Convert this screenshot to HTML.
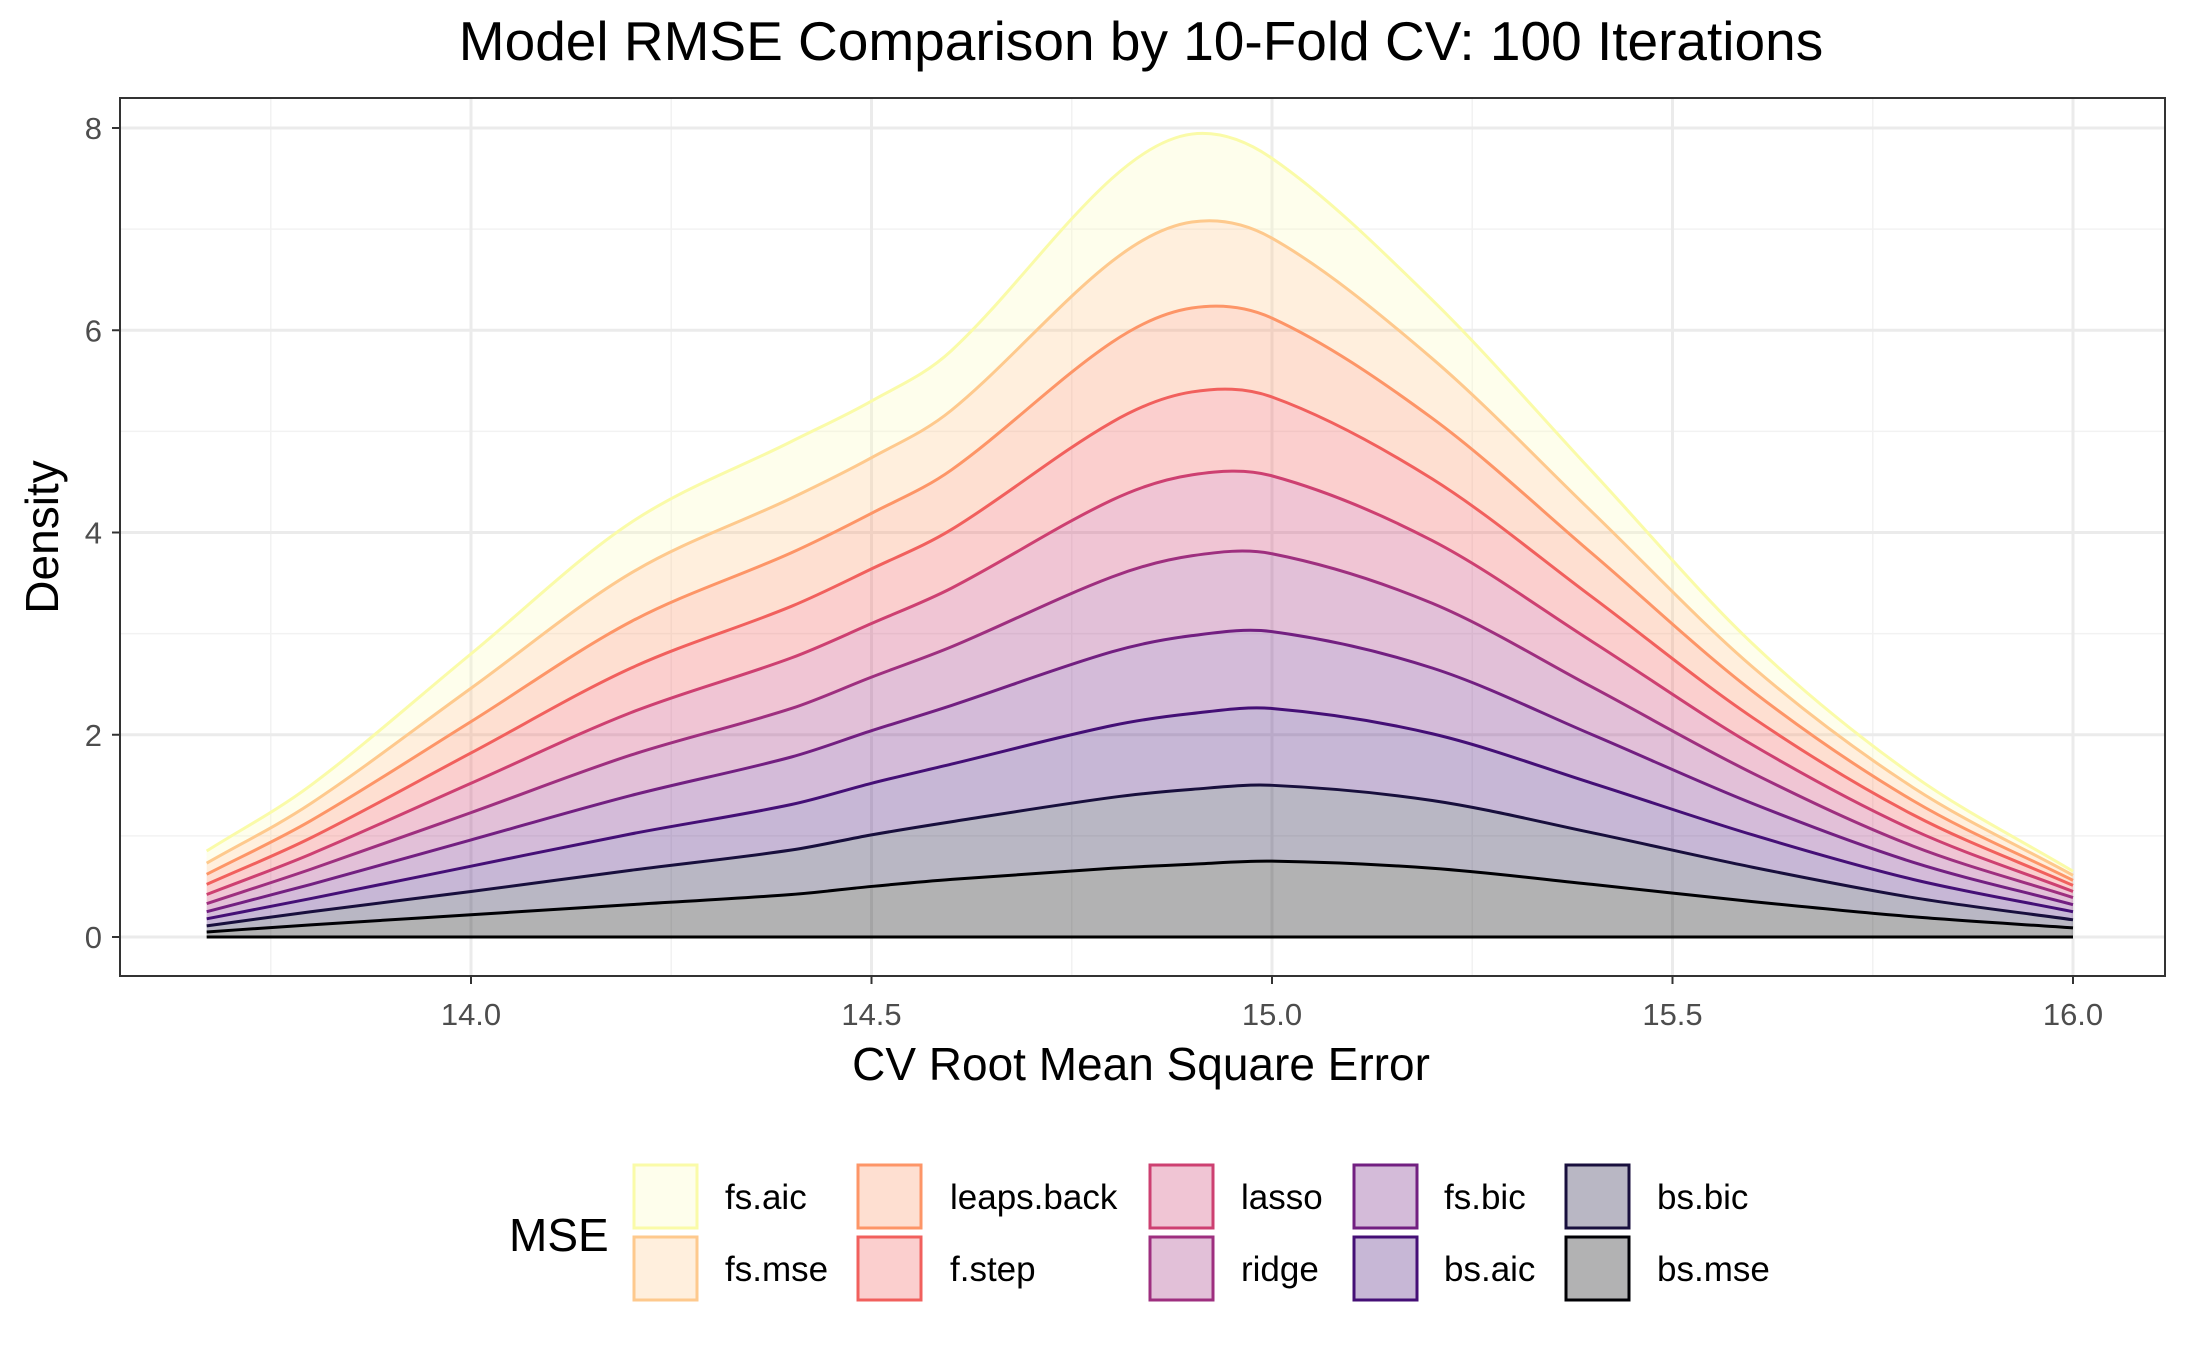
<!DOCTYPE html>
<html><head><meta charset="utf-8"><style>
html,body{margin:0;padding:0;background:#fff;}
svg{display:block;font-family:"Liberation Sans",sans-serif;}
</style></head><body>
<svg id="chart" width="2187" height="1350" viewBox="0 0 2187 1350">
<rect width="2187" height="1350" fill="#fff"/>
<text x="1141" y="60" font-size="55" text-anchor="middle" fill="#000">Model RMSE Comparison by 10-Fold CV: 100 Iterations</text>
<g id="grid"></g>
<g id="areas"></g>
<rect x="120" y="98" width="2045" height="878" fill="none" stroke="#333" stroke-width="2"/>
<g id="axes"></g>
<text x="1141" y="1080" font-size="46" text-anchor="middle" fill="#000">CV Root Mean Square Error</text>
<text x="0" y="0" font-size="46" text-anchor="middle" fill="#000" transform="translate(58,537) rotate(-90)">Density</text>
<text x="509" y="1251" font-size="46" fill="#000">MSE</text>
<g id="legend"></g>
</svg>
<script>
const xs = [13.67,13.8,14.0,14.2,14.4,14.5,14.6,14.8,14.9,15.0,15.2,15.4,15.6,15.8,16.0];
const seriesNames = ["bs.mse","bs.bic","bs.aic","fs.bic","ridge","lasso","f.step","leaps.back","fs.mse","fs.aic"];
const bsMse = [0.05,0.12,0.22,0.32,0.42,0.50,0.57,0.68,0.72,0.75,0.68,0.52,0.35,0.20,0.09];
const bsBic = [0.06,0.13,0.23,0.34,0.44,0.51,0.57,0.70,0.74,0.75,0.67,0.51,0.34,0.19,0.08];
const bsAic = [0.07,0.13,0.25,0.36,0.45,0.51,0.57,0.71,0.75,0.76,0.66,0.49,0.32,0.18,0.08];
const fsBic = [0.07,0.14,0.26,0.38,0.47,0.52,0.58,0.73,0.77,0.76,0.65,0.48,0.31,0.17,0.07];
const ridge = [0.08,0.15,0.27,0.40,0.48,0.53,0.58,0.74,0.79,0.77,0.64,0.47,0.30,0.16,0.07];
const lasso = [0.09,0.15,0.29,0.42,0.50,0.53,0.58,0.76,0.80,0.77,0.62,0.45,0.28,0.16,0.06];
const fStep = [0.10,0.16,0.30,0.44,0.51,0.54,0.58,0.77,0.82,0.78,0.61,0.44,0.27,0.15,0.06];
const leapsBack = [0.10,0.17,0.31,0.46,0.53,0.55,0.59,0.79,0.83,0.78,0.60,0.43,0.26,0.14,0.05];
const fsMse = [0.11,0.17,0.33,0.48,0.54,0.55,0.59,0.80,0.85,0.79,0.59,0.41,0.24,0.13,0.05];
const fsAic = [0.12,0.18,0.34,0.50,0.56,0.56,0.59,0.82,0.87,0.79,0.58,0.40,0.23,0.12,0.04];
const seriesValues = [bsMse,bsBic,bsAic,fsBic,ridge,lasso,fStep,leapsBack,fsMse,fsAic];
const xTicks = [14.0,14.5,15.0,15.5,16.0];
const xTickLabels = ["14.0","14.5","15.0","15.5","16.0"];
const yTicks = [0,2,4,6,8];
const yTickLabels = ["0","2","4","6","8"];
const colors = ["#000004","#180F3D","#440F76","#721F81","#9E2F7F","#CD4071","#F1605D","#FD9567","#FEC98D","#FCFDBF"];
const lineColors = ["#000004","#180F3D","#440F76","#721F81","#9E2F7F","#CD4071","#F1605D","#FD9567","#FEC98D","#FAFBA8"];

const NS="http://www.w3.org/2000/svg";
function X(v){return 471+(v-14)*(2073-471)/2;}
function Y(v){return 937-v*(937-128)/8;}
function mk(t,p,a){const e=document.createElementNS(NS,t);for(const k in a)e.setAttribute(k,a[k]);p.appendChild(e);return e;}

const grid=document.getElementById('grid');
[13.75,14.25,14.75,15.25,15.75].forEach(v=>{const l=mk('line',grid,{x1:X(v),x2:X(v),y1:98,y2:976,stroke:'#F2F2F2','stroke-width':1.5});

});
[1,3,5,7].forEach(v=>{const l=mk('line',grid,{x1:120,x2:2165,y1:Y(v),y2:Y(v),stroke:'#F2F2F2','stroke-width':1.5});

});
xTicks.forEach(v=>{const l=mk('line',grid,{x1:X(v),x2:X(v),y1:98,y2:976,stroke:'#EBEBEB','stroke-width':3});

});
yTicks.forEach(v=>{const l=mk('line',grid,{x1:120,x2:2165,y1:Y(v),y2:Y(v),stroke:'#EBEBEB','stroke-width':3});

});

const cum=[];let prev=xs.map(()=>0);cum.push(prev);
seriesValues.forEach(s=>{const c=s.map((v,i)=>v+prev[i]);cum.push(c);prev=c;});
function pts(arr){return xs.map((x,i)=>[X(x),Y(arr[i])]);}
function curve(p,move){
 const n=p.length,m=[];
 for(let i=0;i<n;i++){const a=p[Math.max(0,i-1)],b=p[Math.min(n-1,i+1)];m.push((b[1]-a[1])/(b[0]-a[0]));}
 let d=move?`M${p[0][0]},${p[0][1]}`:`L${p[0][0]},${p[0][1]}`;
 for(let i=0;i<n-1;i++){const p1=p[i],p2=p[i+1],dx=(p2[0]-p1[0])/3;
  d+=`C${p1[0]+dx},${p1[1]+m[i]*dx} ${p2[0]-dx},${p2[1]-m[i+1]*dx} ${p2[0]},${p2[1]}`;}
 return d;}
const areas=document.getElementById('areas');
for(let k=seriesValues.length-1;k>=0;k--){
 const top=pts(cum[k+1]),bot=pts(cum[k]).reverse();
 const d=curve(top,true)+curve(bot,false)+'Z';
 const a=mk('path',areas,{d:d,fill:colors[k],'fill-opacity':0.3,stroke:'none'});
 
 
}
for(let k=seriesValues.length-1;k>=0;k--){
 const l=mk('path',areas,{d:curve(pts(cum[k+1]),true),fill:'none',stroke:lineColors[k],'stroke-width':3});
 
 
}
const base=mk('line',areas,{x1:X(xs[0]),x2:X(xs[xs.length-1]),y1:Y(0),y2:Y(0),stroke:'#000',"stroke-width":3});



const axes=document.getElementById('axes');
xTicks.forEach((v,i)=>{const t=mk('line',axes,{x1:X(v),x2:X(v),y1:976,y2:984,stroke:'#333','stroke-width':2});


const tx=mk('text',axes,{x:X(v),y:1025,'font-size':31,'text-anchor':'middle',fill:'#4D4D4D'});tx.textContent=xTickLabels[i];

});
yTicks.forEach((v,i)=>{const t=mk('line',axes,{x1:112,x2:120,y1:Y(v),y2:Y(v),stroke:'#333','stroke-width':2});


const tx=mk('text',axes,{x:102,y:Y(v)+11,'font-size':31,'text-anchor':'end',fill:'#4D4D4D'});tx.textContent=yTickLabels[i];

});

const lg=document.getElementById('legend');
const keyX=[632,856,1148,1352,1564],labX=[725,950,1241,1444,1657],rowY=[1163,1235];
const order=[9,8,7,6,5,4,3,2,1,0];
order.forEach((k,j)=>{const c=Math.floor(j/2),r=j%2;
 const bg=mk('rect',lg,{x:keyX[c],y:rowY[r],width:67,height:67,fill:'#fff'});
 
 
 const kr=mk('rect',lg,{x:keyX[c]+2,y:rowY[r]+2,width:63,height:63,fill:colors[k],'fill-opacity':0.3,stroke:lineColors[k],'stroke-width':3});
 
 
 const t=mk('text',lg,{x:labX[c],y:rowY[r]+46,'font-size':35,fill:'#000'});t.textContent=seriesNames[k];
 
 
});
</script>
</body></html>
